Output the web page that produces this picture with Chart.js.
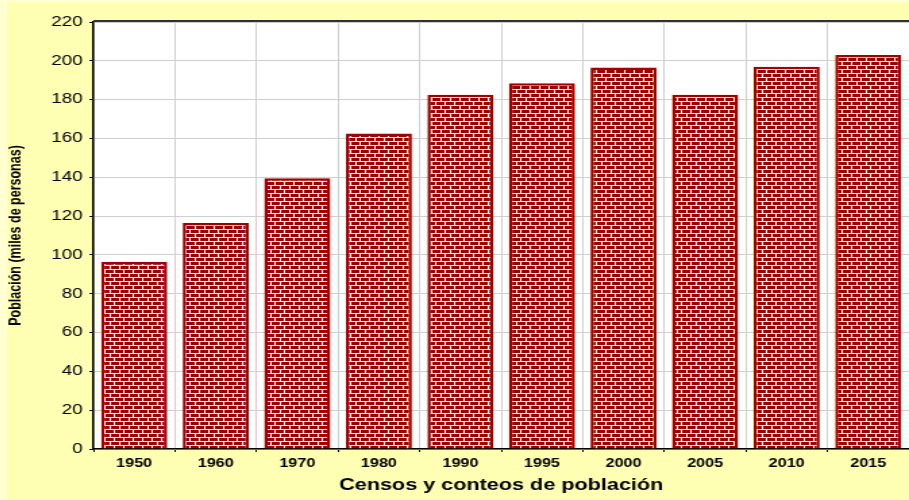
<!DOCTYPE html>
<html>
<head>
<meta charset="utf-8">
<script src="https://cdn.jsdelivr.net/npm/chart.js@4"></script>
<style>
  html, body { margin: 0; padding: 0; background: #ffffd2; }
  #wrap { position: absolute; left: 7px; top: 2px; width: 902px; height: 498px; background: #ffffb4; }
</style>
</head>
<body>
<div id="wrap">
  <canvas id="grafica" width="668" height="498" style="width:902px;height:498px"></canvas>
</div>
<script>
// datos
const censos = ['1950', '1960', '1970', '1980', '1990', '1995', '2000', '2005', '2010', '2015'];
const poblacion = [96.5, 116.5, 139.5, 162.5, 182.5, 188.5, 196.5, 182.5, 197, 203];
const ejeY = { min: 0, max: 220, paso: 20 };

const FUENTE = 'Arial, "Liberation Sans", sans-serif';

// patron de ladrillos
function patronLadrillo(ctx) {
  const c = document.createElement('canvas');
  c.width = 7; c.height = 8;
  const p = c.getContext('2d');
  p.fillStyle = '#ffffff';
  p.fillRect(0, 0, 7, 8);
  p.fillStyle = '#9c0000';
  p.fillRect(0, 0, 6, 3);
  p.fillRect(0, 4, 2, 3);
  p.fillRect(3, 4, 4, 3);
  return ctx.createPattern(c, 'repeat');
}

const fondoArea = {
  id: 'fondoArea',
  beforeDraw(chart) {
    const { ctx, chartArea: a } = chart;
    ctx.save();
    ctx.fillStyle = '#ffffff';
    ctx.fillRect(a.left, a.top, a.right - a.left, a.bottom - a.top);
    ctx.restore();
  },
  afterDraw(chart) {
    const { ctx, chartArea: a } = chart;
    ctx.save();
    ctx.strokeStyle = '#303030';
    ctx.lineWidth = 2;
    ctx.beginPath();
    ctx.moveTo(a.left, a.top - 1);
    ctx.lineTo(a.right, a.top - 1);
    ctx.stroke();
    ctx.restore();
  }
};

const canvas = document.getElementById('grafica');
const ctx = canvas.getContext('2d');

new Chart(ctx, {
  type: 'bar',
  data: {
    labels: censos,
    datasets: [{
      label: 'Población',
      data: poblacion,
      backgroundColor: patronLadrillo(ctx),
      borderColor: '#a00000',
      borderWidth: 2.5,
      categoryPercentage: 1,
      barPercentage: 0.81
    }]
  },
  options: {
    responsive: false,
    devicePixelRatio: 1,
    animation: false,
    layout: { padding: { top: 20, right: 0, bottom: 0, left: 0 } },
    plugins: { legend: { display: false }, tooltip: { enabled: false } },
    scales: {
      x: {
        offset: true,
        grid: { offset: true, color: '#cfcfcf', lineWidth: 1, tickLength: 3, tickColor: '#000000' },
        border: { color: '#000000', width: 1.5 },
        ticks: {
          color: '#000000', padding: 4, autoSkip: false, maxRotation: 0,
          font: { family: FUENTE, size: 12, weight: 'bold' }
        },
        title: {
          display: true, text: 'Censos y conteos de población', color: '#000000',
          font: { family: FUENTE, size: 16, weight: 'bold', lineHeight: 1 },
          padding: { top: 0, bottom: 6 }
        },
        afterFit(s) { s.height = 51; }
      },
      y: {
        min: ejeY.min, max: ejeY.max,
        grid: { color: '#cfcfcf', lineWidth: 1, tickLength: 3, tickColor: '#000000' },
        border: { color: '#000000', width: 1.5 },
        ticks: {
          stepSize: ejeY.paso, color: '#000000', padding: 5,
          font: { family: FUENTE, size: 14 }
        },
        title: {
          display: true, text: 'Población (miles de personas)', color: '#000000',
          font: { family: FUENTE, size: 12.5, weight: 'bold', lineHeight: 1 },
          padding: { top: 0, bottom: 0 }
        },
        afterFit(s) { s.width = 64; }
      }
    }
  },
  plugins: [fondoArea]
});
</script>
</body>
</html>
